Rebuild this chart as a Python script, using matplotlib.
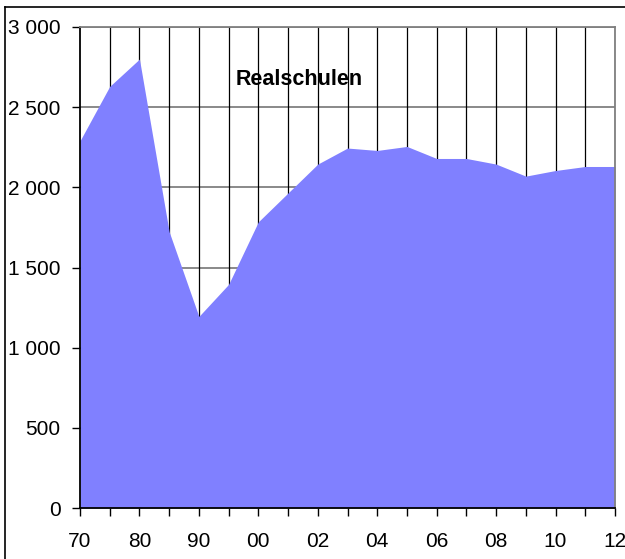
import matplotlib.pyplot as plt
from matplotlib.lines import Line2D
from matplotlib.ticker import FuncFormatter

years = ['70', '75', '80', '85', '90', '95', '00', '01', '02', '03',
         '04', '05', '06', '07', '08', '09', '10', '11', '12']
realschulen = [2290, 2630, 2800, 1723, 1195, 1395, 1785, 1965, 2145, 2245,
               2230, 2255, 2180, 2180, 2145, 2070, 2105, 2130, 2130]
yticks = [0, 500, 1000, 1500, 2000, 2500, 3000]

plt.rcParams['font.family'] = ['Liberation Sans', 'DejaVu Sans']

fig = plt.figure(figsize=(6.25, 5.59), dpi=100)
ax = fig.add_axes([80 / 625, 51 / 559, 535 / 625, 481 / 559])

x = list(range(len(years)))
ax.fill_between(x, 0, realschulen, color='#8080ff', lw=0, zorder=3)

# grid: horizontal grey, vertical black at every category
for v in yticks[1:]:
    ax.axhline(v, color='#808080', lw=1.3, zorder=1)
for i in x[1:]:
    ax.axvline(i, color='black', lw=0.9, zorder=1)

ax.set_xlim(0, len(years) - 1)
ax.set_ylim(0, 3000)
ax.set_xticks(x)
ax.set_xticklabels([y if i % 2 == 0 else '' for i, y in enumerate(years)])
ax.set_yticks(yticks)
ax.yaxis.set_major_formatter(FuncFormatter(lambda v, p: f'{int(v):,}'.replace(',', ' ')))
ax.tick_params(axis='both', labelsize=15, direction='out', length=6, width=1, color='black')
ax.tick_params(axis='y', pad=8)
ax.tick_params(axis='x', pad=11)

ax.spines['left'].set_color('black')
ax.spines['bottom'].set_color('black')
ax.spines['top'].set_color('#808080')
ax.spines['right'].set_color('#808080')
for s in ax.spines.values():
    s.set_linewidth(1.3)
    s.set_zorder(4)

ax.text(0.41, 0.879, 'Realschulen', transform=ax.transAxes, ha='center',
        va='baseline', fontsize=15.5, fontweight='bold', zorder=5)

# outer chart border (clipped at right/bottom like the reference)
top = 1 - 7 / 559
left = 5 / 625
fig.add_artist(Line2D([left, 1], [top, top], color='black', lw=1.2, transform=fig.transFigure))
fig.add_artist(Line2D([left, left], [0, top], color='black', lw=1.2, transform=fig.transFigure))

fig.savefig('out.png', dpi=100)
